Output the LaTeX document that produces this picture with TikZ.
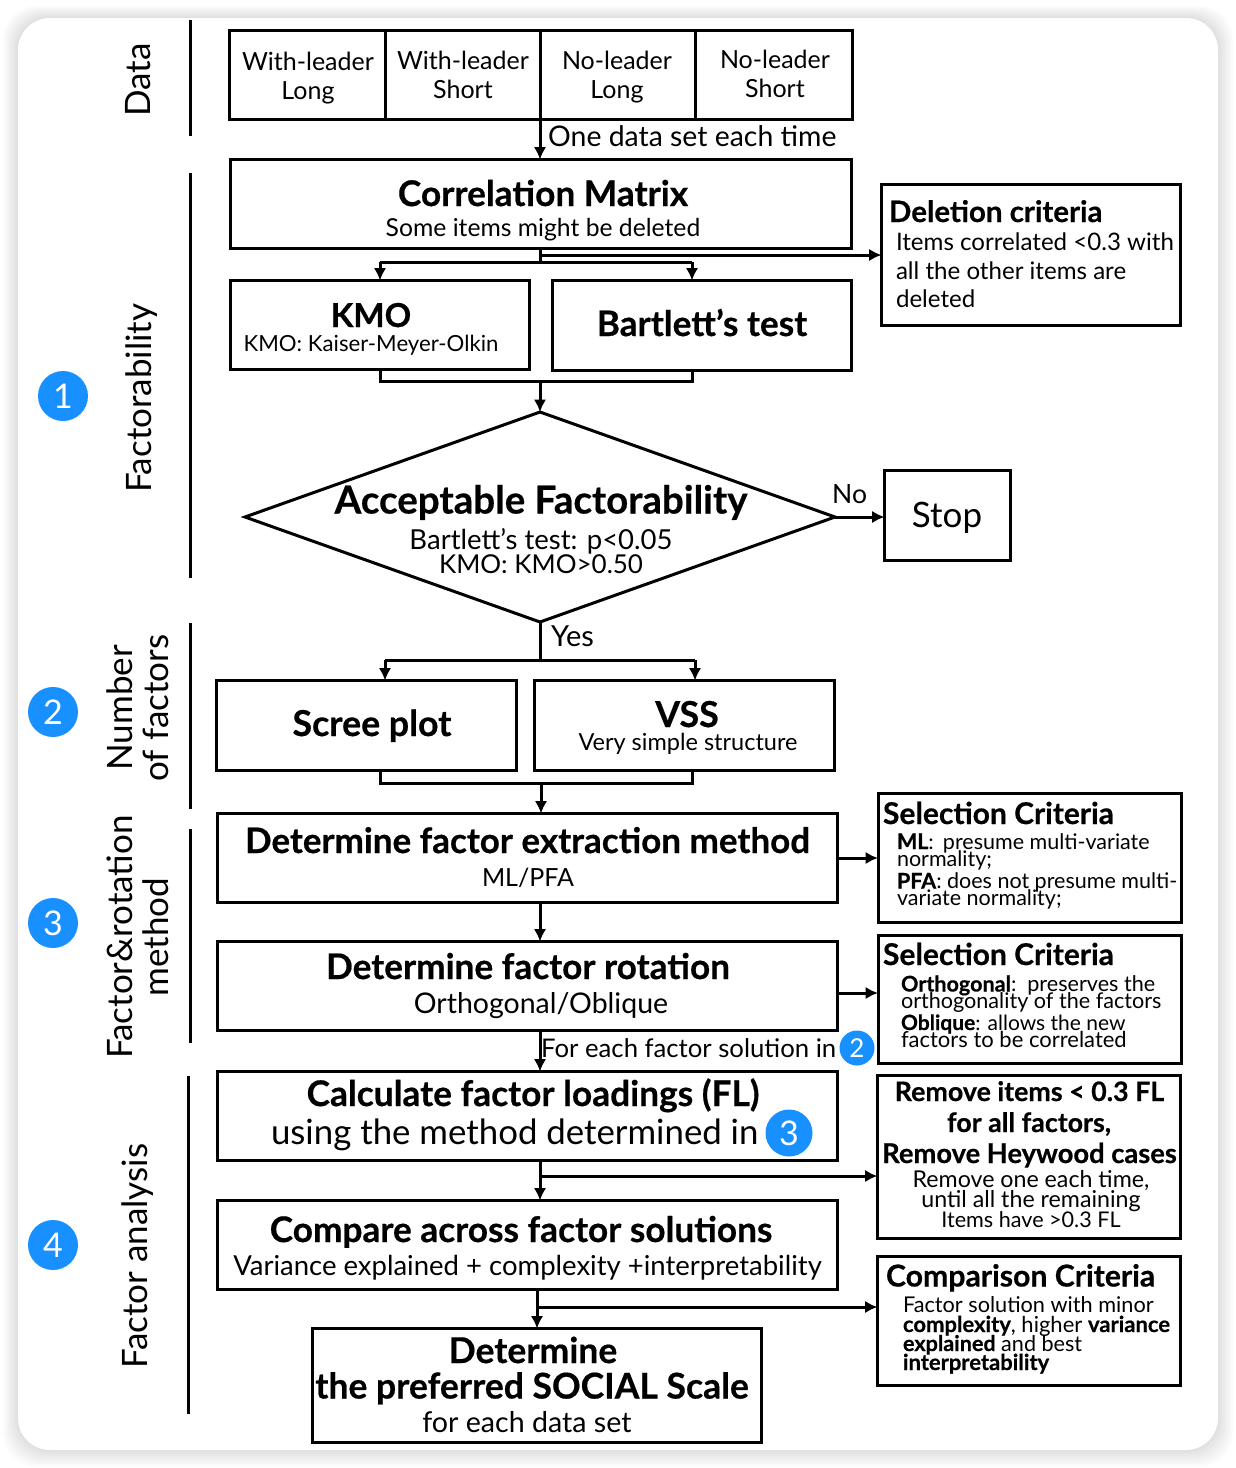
\documentclass[tikz,border=0pt]{standalone}
\usepackage{fontspec}
\setmainfont{Lato}[BoldFeatures={FakeBold=0.5}]
\usetikzlibrary{arrows.meta,shapes.geometric}
\definecolor{badge}{HTML}{1890FF}
\newcommand{\fs}[2]{\fontsize{#1}{#2}\selectfont}
% text lines placed by absolute baseline inside a box: centred and left-aligned
\newcommand{\Bc}[4]{\pgfmathsetmacro{\tyy}{#1-\bxt}\pgfmathsetmacro{\txx}{#3-\bxl}%
  \vbox to 0pt{\vskip\tyy pt\hbox to 0pt{\hskip\txx pt\smash{\hbox to 0pt{\hss\fs{#2}{#2}#4\hss}}\hss}\vss}}
\newcommand{\Bl}[4]{\pgfmathsetmacro{\tyy}{#1-\bxt}\pgfmathsetmacro{\txx}{#3-\bxl}%
  \vbox to 0pt{\vskip\tyy pt\hbox to 0pt{\hskip\txx pt\smash{\hbox to 0pt{\fs{#2}{#2}#4\hss}}\hss}\vss}}
\newcommand{\boxbody}[1]{\vbox to \bxh pt{\offinterlineskip\hbox to \bxw pt{\hfil}\nointerlineskip#1\vss}}
\newcommand{\boxn}[6]{%
  \pgfmathsetmacro{\bxcx}{(#2+#4)/2}\pgfmathsetmacro{\bxcy}{(#3+#5)/2}%
  \pgfmathsetmacro{\bxw}{#4-#2}\pgfmathsetmacro{\bxh}{#5-#3}%
  \def\bxl{#2}\def\bxt{#3}%
  \node[flowbox,minimum width=\bxw pt,minimum height=\bxh pt] (#1) at (\bxcx,\bxcy) {\boxbody{#6}};}
\tikzset{
  flowbox/.style={draw=black,line width=3pt,fill=white,inner sep=0pt,outer sep=0pt},
  flow/.style={draw=black,line width=3pt},
  arr/.style={flow,-{Latex[length=12.5pt,width=12.5pt]}},
  sep/.style={draw=black,line width=3pt},
  side/.style={rotate=90,align=center,inner sep=0pt,font=\fs{35}{36}},
  badgec/.style={circle,fill=badge,text=white,inner sep=0pt,minimum size=#1},
  lab/.style={inner sep=0pt,anchor=base west},
}
\begin{document}
\begin{tikzpicture}[x=1pt,y=-1pt]
\useasboundingbox (0,0) rectangle (1236,1468);
\fill[white] (0,0) rectangle (1236,1468);
% card shadow
\foreach \g in {15,13,...,1}{
  \fill[black,opacity=0.016,rounded corners=34pt] (18-\g,18-\g*0.8) rectangle (1218+\g,1450+\g*1.1);
}
\fill[white,rounded corners=32pt] (18,18) rectangle (1218,1450);
% anchors for connectors
\coordinate (xa) at (540,0); \coordinate (xb) at (380,0); \coordinate (xc) at (692,0);
\coordinate (xd) at (385,0); \coordinate (xe) at (695,0); \coordinate (xf) at (541,0);
\coordinate (xg) at (537,0);
\coordinate (ya) at (0,262); \coordinate (yb) at (0,255); \coordinate (yc) at (0,381);
\coordinate (yd) at (0,660); \coordinate (ye) at (0,783); \coordinate (yf) at (0,858);
\coordinate (yg) at (0,993); \coordinate (yh) at (0,1176); \coordinate (yi) at (0,1307);
% side dividers
\coordinate (s1a) at (190,20); \coordinate (s1b) at (190,136);
\coordinate (s2a) at (190,173); \coordinate (s2b) at (190,578);
\coordinate (s3a) at (190,623); \coordinate (s3b) at (190,809);
\coordinate (s4a) at (190,829); \coordinate (s4b) at (190,1043);
\coordinate (s5a) at (188,1076); \coordinate (s5b) at (188,1414);
\draw[sep] (s1a)--(s1b); \draw[sep] (s2a)--(s2b); \draw[sep] (s3a)--(s3b);
\draw[sep] (s4a)--(s4b); \draw[sep] (s5a)--(s5b);
% side labels
\node[side] (lData) at (138,80) {Data};
\node[side] (lFact) at (142,398) {Factorability};
\node[side] (lNum) at (138,708) {Number\\of factors};
\node[side] (lRot) at (138,937) {Factor\&rotation\\method};
\node[side] (lAna) at (138,1256) {Factor analysis};
% badges
\node[badgec=50pt,font=\fs{34}{34}] (b1) at (63,396) {1};
\node[badgec=50pt,font=\fs{34}{34}] (b2) at (53,712) {2};
\node[badgec=50pt,font=\fs{34}{34}] (b3) at (53,923) {3};
\node[badgec=50pt,font=\fs{34}{34}] (b4) at (53,1245) {4};
% data
\boxn{d1}{229}{30.5}{385}{119.5}{\Bc{70}{25}{308}{With-leader}\Bc{99}{25}{308}{Long}}
\boxn{d2}{385}{30.5}{540}{119.5}{\Bc{69}{25}{463}{With-leader}\Bc{98}{25}{463}{Short}}
\boxn{d3}{540}{30.5}{695}{119.5}{\Bc{69}{25}{617}{No-leader}\Bc{98}{25}{617}{Long}}
\boxn{d4}{695}{30.5}{852.5}{119.5}{\Bc{68}{25}{775}{No-leader}\Bc{97}{25}{775}{Short}}
% factorability
\boxn{corr}{230}{159.5}{851.5}{248.5}{\Bc{206}{35.3}{543}{\textbf{Correlation Matrix}}\Bc{236}{24.7}{543}{Some items might be deleted}}
\boxn{kmo}{230}{280.5}{529.5}{369.5}{\Bc{327}{33}{371}{\textbf{KMO}}\Bc{351}{22.2}{371}{KMO: Kaiser-Meyer-Olkin}}
\boxn{bart}{552}{280.5}{851}{370}{\Bc{336}{35.2}{702}{\textbf{Bartlett’s test}}}
\boxn{del}{881.5}{184.5}{1180.5}{325}{\Bl{222}{29.5}{889}{\textbf{Deletion criteria}}\Bl{250.5}{24.1}{896}{Items correlated <0.3 with}\Bl{279}{24.1}{896}{all the other items are}\Bl{307}{24.1}{896}{deleted}}
\def\bxl{540}\def\bxt{517}\def\bxw{0}\def\bxh{0}
\node[draw=black,line width=3pt,fill=white,diamond,aspect=2.81,inner sep=0pt,outer sep=0pt,minimum width=590pt,minimum height=210pt] (acc) at (540,517)
  {\boxbody{\Bc{513.5}{38.5}{541}{\textbf{Acceptable Factorability}}\Bc{549.5}{27.5}{541}{Bartlett’s test: p<0.05}\Bc{573}{26}{541}{KMO: KMO>0.50}}};
\boxn{stop}{884.5}{470.5}{1010}{560}{\Bc{527}{35}{947}{Stop}}
% number of factors
\boxn{scree}{216.5}{680.5}{516}{770}{\Bc{736}{35.7}{372}{\textbf{Scree plot}}}
\boxn{vss}{534}{680.5}{834}{770}{\Bc{727}{35.8}{687}{\textbf{VSS}}\Bc{750}{23.5}{688}{Very simple structure}}
% method
\boxn{ext}{217.5}{813.5}{837.5}{902}{\Bc{853}{35}{527.5}{\textbf{Determine factor extraction method}}\Bc{886}{25}{528}{ML/PFA}}
\boxn{rot}{217.5}{941.5}{837.5}{1030}{\Bc{979}{35.2}{528}{\textbf{Determine factor rotation}}\Bc{1013}{28.5}{541}{Orthogonal/Oblique}}
\boxn{sc1}{878}{793.5}{1181.5}{922}{\Bl{824}{30}{883}{\textbf{Selection Criteria}}%
  \Bl{849}{21.5}{897}{\textbf{ML}: \,presume multi-variate}\Bl{866}{21.5}{897}{normality;}%
  \Bl{888.5}{21.5}{897}{\textbf{PFA}: does not presume multi-}\Bl{905.5}{21.5}{897}{variate normality;}}
\boxn{sc2}{878}{935.5}{1181.5}{1063}{\Bl{965}{30}{883}{\textbf{Selection Criteria}}%
  \Bl{991.5}{21.6}{901}{\textbf{Orthogonal}: \,preserves the}\Bl{1008}{21.6}{901}{orthogonality of the factors}%
  \Bl{1030}{21}{901}{\textbf{Oblique}: allows the new}\Bl{1047}{22}{901}{factors to be correlated}}
% analysis
\boxn{fl}{217.5}{1071.5}{837.5}{1160}{\Bc{1106}{35.3}{533}{\textbf{Calculate factor loadings (FL)}}\Bl{1144}{34.8}{271}{using the method determined in}}
\boxn{cmp}{217.5}{1200.5}{837.5}{1289}{\Bc{1242}{35.2}{521}{\textbf{Compare across factor solutions}}\Bc{1275}{27.5}{527.5}{Variance explained + complexity +interpretability}}
\boxn{det}{312.5}{1328.5}{761}{1442}{\Bc{1363}{35.5}{533}{\textbf{Determine}}\Bc{1398.5}{35.5}{532}{\textbf{the preferred SOCIAL Scale}}\Bc{1432}{28.6}{527}{for each data set}}
\boxn{rem}{877.5}{1075.5}{1180.5}{1238}{\Bc{1101}{26.8}{1029.5}{\textbf{Remove items < 0.3 FL}}\Bc{1132}{26.8}{1029}{\textbf{for all factors,}}\Bc{1163}{27.3}{1029.5}{\textbf{Remove Heywood cases}}%
  \Bc{1187}{23.2}{1031}{Remove one each time,}\Bc{1207}{23.2}{1031}{until all the remaining}\Bc{1227}{21.6}{1031}{Items have >0.3 FL}}
\boxn{cc}{877.5}{1256.5}{1180.5}{1385}{\Bl{1286.5}{30.2}{886}{\textbf{Comparison Criteria}}%
  \Bl{1312}{21.7}{903}{Factor solution with minor}\Bl{1332}{22}{903}{\textbf{complexity}, higher \textbf{variance}}\Bl{1351}{21.6}{903}{\textbf{explained} and best}\Bl{1370}{22}{903}{\textbf{interpretability}}}
% inline badges
\node[badgec=47pt,font=\fs{34}{34}] (b5) at (789,1133) {3};
\node[badgec=35pt,font=\fs{26}{26}] (b6) at (857,1048) {2};
% connectors
\draw[arr] (d3.south west) -- (corr.north -| xa);
\draw[flow] (corr.south -| xa) -- (ya -| xa);
\draw[flow] (ya -| xb) -- (ya -| xc);
\draw[arr] (ya -| xb) -- (kmo.north -| xb);
\draw[arr] (ya -| xc) -- (bart.north -| xc);
\draw[arr] (yb -| xa) -- (yb -| del.west);
\draw[flow] (kmo.south -| xb) -- (yc -| xb) -- (yc -| xc) -- (bart.south -| xc);
\draw[arr] (yc -| xa) -- (acc.north);
\draw[arr] (acc.east) -- (stop.west |- acc.east);
\draw[flow] (acc.south) -- (yd -| xa);
\draw[flow] (yd -| xd) -- (yd -| xe);
\draw[arr] (yd -| xd) -- (scree.north -| xd);
\draw[arr] (yd -| xe) -- (vss.north -| xe);
\draw[flow] (scree.south -| xb) -- (ye -| xb) -- (ye -| xc) -- (vss.south -| xc);
\draw[arr] (ye -| xf) -- (ext.north -| xf);
\draw[arr] (ext.south -| xa) -- (rot.north -| xa);
\draw[arr] (yf -| ext.east) -- (yf -| sc1.west);
\draw[arr] (yg -| rot.east) -- (yg -| sc2.west);
\draw[arr] (rot.south -| xa) -- (fl.north -| xa);
\draw[arr] (fl.south -| xa) -- (cmp.north -| xa);
\draw[arr] (yh -| xa) -- (yh -| rem.west);
\draw[arr] (cmp.south -| xg) -- (det.north -| xg);
\draw[arr] (yi -| xg) -- (yi -| cc.west);
% connector labels
\node[lab,font=\fs{28.4}{30}] (tOne) at (548,146) {One data set each time};
\node[lab,font=\fs{26.5}{28}] (tNo) at (832,503) {No};
\node[lab,font=\fs{29}{30}] (tYes) at (551,646) {Yes};
\node[lab,font=\fs{25.7}{28}] (tEach) at (541,1057) {For each factor solution in};
\end{tikzpicture}
\end{document}
